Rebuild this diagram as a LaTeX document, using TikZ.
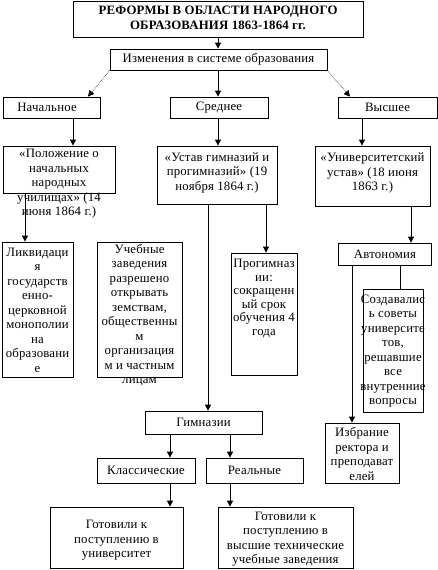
\documentclass[tikz,border=0pt]{standalone}
\usepackage{fontspec}
\setmainfont{Liberation Serif}[LetterSpace=1.5]
\usetikzlibrary{arrows.meta}
\begin{document}
\begin{tikzpicture}[x=1pt,y=-1pt,
  box/.style={draw, line width=0.8pt, inner sep=0pt},
  txt/.style={align=center, inner sep=0pt, font=\fontsize{12.8}{14.5}\selectfont},
  arr/.style={line width=0.8pt, -{Triangle[length=6pt,width=6pt]}},
  plain/.style={line width=0.8pt},
  diag/.style={line width=0.6pt, densely dotted, -{Triangle[length=6pt,width=6pt]}}]
\fill[white] (0,0) rectangle (438,570);
\useasboundingbox (0,0) rectangle (438,570);
% boxes
\node[box, minimum width=290pt, minimum height=36pt] (title) at (218,19) {};
\node[box, minimum width=217pt, minimum height=21pt] (izm) at (218.5,59.5) {};
\node[box, minimum width=97pt, minimum height=21pt] (nach) at (51.5,107.5) {};
\node[box, minimum width=98pt, minimum height=21pt] (sred) at (219,107.5) {};
\node[box, minimum width=99pt, minimum height=21pt] (vys) at (387.5,107.5) {};
\node[box, minimum width=112pt, minimum height=47pt] (pol) at (59,169.5) {};
\node[box, minimum width=120pt, minimum height=58pt] (ustav) at (217,175) {};
\node[box, minimum width=115pt, minimum height=60pt] (uni) at (372.5,176) {};
\node[box, minimum width=71pt, minimum height=135pt] (likv) at (37.5,309.5) {};
\node[box, minimum width=85pt, minimum height=135pt] (uch) at (139.5,309.5) {};
\node[box, minimum width=66pt, minimum height=122pt] (progim) at (264,314) {};
\node[box, minimum width=93pt, minimum height=22pt] (avt) at (385,254) {};
\node[box, minimum width=60pt, minimum height=123pt] (sozd) at (393,350.5) {};
\node[box, minimum width=74pt, minimum height=60pt] (izbr) at (362,453) {};
\node[box, minimum width=117pt, minimum height=23pt] (gimn) at (203.5,422.5) {};
\node[box, minimum width=98pt, minimum height=25pt] (klass) at (146,470.5) {};
\node[box, minimum width=97pt, minimum height=25pt] (real) at (254.5,470.5) {};
\node[box, minimum width=133pt, minimum height=61pt] (got1) at (116.5,537.5) {};
\node[box, minimum width=135pt, minimum height=61pt] (got2) at (285.5,537.5) {};
% texts
\node[txt, font=\fontsize{12.8}{15.5}\selectfont\bfseries] (t-title) at (218,18) {РЕФОРМЫ В ОБЛАСТИ НАРОДНОГО\\ОБРАЗОВАНИЯ 1863-1864 гг.};
\node[txt] (t-izm) at (218.5,59.5) {Изменения в системе образования};
\node[txt] (t-nach) at (47,107.5) {Начальное};
\node[txt] (t-sred) at (219,107.5) {Среднее};
\node[txt] (t-vys) at (387.5,107.5) {Высшее};
\node[txt] (t-pol) at (59,184) {«Положение о\\начальных\\народных\\училищах» (14\\июня 1864 г.)};
\node[txt] (t-ustav) at (217,172.5) {«Устав гимназий и\\прогимназий» (19\\ноября 1864 г.)};
\node[txt] (t-uni) at (372.5,173) {«Университетский\\устав» (18 июня\\1863 г.)};
\node[txt] (t-likv) at (37.5,310) {Ликвидаци\\я\\государств\\енно-\\церковной\\монополии\\на\\образовани\\е};
\node[txt] (t-uch) at (139.5,315) {Учебные\\заведения\\разрешено\\открывать\\земствам,\\общественны\\м\\организация\\м и частным\\лицам};
\node[txt, font=\fontsize{12.8}{13.5}\selectfont] (t-progim) at (264,298.5) {Прогимназ\\ии:\\сокращенн\\ый срок\\обучения 4\\года};
\node[txt] (t-avt) at (385,254) {Автономия};
\node[txt] (t-sozd) at (393,351) {Создавалис\\ь советы\\университе\\тов,\\решавшие\\все\\внутренние\\вопросы};
\node[txt] (t-izbr) at (362,454) {Избрание\\ректора и\\преподават\\елей};
\node[txt] (t-gimn) at (203.5,422.5) {Гимназии};
\node[txt] (t-klass) at (146,470.5) {Классические};
\node[txt] (t-real) at (254.5,470.5) {Реальные};
\node[txt] (t-got1) at (116.5,540.5) {Готовили к\\поступлению в\\университет};
\node[txt] (t-got2) at (285.5,539) {Готовили к\\поступлению в\\высшие технические\\учебные заведения};
% x positions of connectors
\coordinate (x25) at (25,0);
\coordinate (x73) at (73,0);
\coordinate (x88) at (88,0);
\coordinate (x170) at (170,0);
\coordinate (x208) at (208,0);
\coordinate (x218) at (218,0);
\coordinate (x230) at (230,0);
\coordinate (x266) at (266,0);
\coordinate (x350) at (350,0);
\coordinate (x352) at (352,0);
\coordinate (x362) at (362,0);
\coordinate (x400) at (400,0);
\coordinate (x411) at (411,0);
% connectors
\draw[arr] (title.south -| x218) -- (izm.north -| x218);
\draw[arr] (izm.south -| x218) -- (sred.north -| x218);
\draw[diag] (izm.south west) -- (nach.north -| x88);
\draw[diag] (izm.south east) -- (vys.north -| x350);
\draw[arr] (nach.south -| x73) -- (pol.north -| x73);
\draw[arr] (sred.south -| x218) -- (ustav.north -| x218);
\draw[arr] (vys.south -| x362) -- (uni.north -| x362);
\draw[arr] (pol.south -| x25) -- (likv.north -| x25);
\draw[arr] (ustav.south -| x208) -- (gimn.north -| x208);
\draw[arr] (ustav.south -| x266) -- (progim.north -| x266);
\draw[arr] (uni.south -| x411) -- (avt.north -| x411);
\draw[arr] (avt.south -| x352) -- (izbr.north -| x352);
\draw[plain] (avt.south -| x400) -- (sozd.north -| x400);
\draw[arr] (gimn.south -| x170) -- (klass.north -| x170);
\draw[arr] (gimn.south -| x230) -- (real.north -| x230);
\draw[arr] (klass.south -| x170) -- (got1.north -| x170);
\draw[arr] (real.south -| x230) -- (got2.north -| x230);
\end{tikzpicture}
\end{document}
